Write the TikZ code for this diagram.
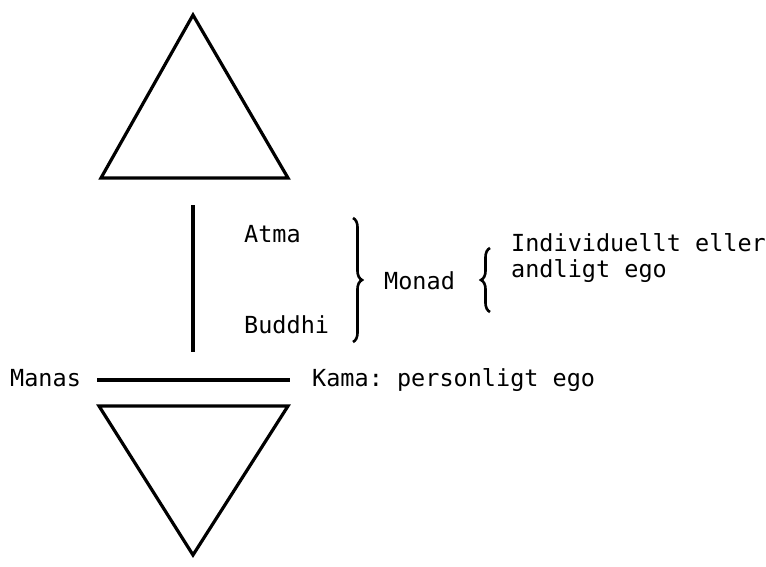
\documentclass[tikz,border=0pt]{standalone}
\usepackage{fontspec}
\setmonofont{DejaVu Sans Mono}
\usetikzlibrary{decorations.pathreplacing}
\tikzset{
  lbl/.style={anchor=base west, inner sep=0pt, font=\ttfamily\fontsize{23.5}{26}\selectfont},
  stroke/.style={line width=3.2pt, line join=miter},
  bracestyle/.style={line width=2.6pt, decorate, decoration={brace, amplitude=9pt, aspect=0.5}}
}
\begin{document}
\begin{tikzpicture}[x=1pt, y=-1pt]
\useasboundingbox (0,0) rectangle (766,567);
% triangles
\draw[stroke] (193,15) -- (288,178) -- (101,178) -- cycle;
\draw[stroke] (99,406) -- (288,406) -- (193,555) -- cycle;
% vertical line
\coordinate (vtop) at (193,205);
\coordinate (vbot) at (193,352);
\draw[stroke] (vtop) -- (vbot);
% labels
\node[lbl] (atma) at (244,242) {Atma};
\node[lbl] (buddhi) at (244,333) {Buddhi};
\node[lbl] (monad) at (384,289) {Monad};
\node[lbl, align=left] (ego) at (511,277) {Individuellt eller\\andligt ego};
\node[lbl] (manas) at (10,386) {Manas};
\node[lbl] (kama) at (312,386) {Kama: personligt ego};
% Manas line
\coordinate (ml) at (97,380);
\coordinate (mr) at (290,380);
\draw[stroke] (ml) -- (mr);
% braces
\coordinate (b1t) at (353,218);
\coordinate (b1b) at (353,342);
\draw[bracestyle] (b1t) -- (b1b);
\coordinate (b2b) at (490,312);
\coordinate (b2t) at (490,248);
\draw[bracestyle] (b2b) -- (b2t);
\end{tikzpicture}
\end{document}
